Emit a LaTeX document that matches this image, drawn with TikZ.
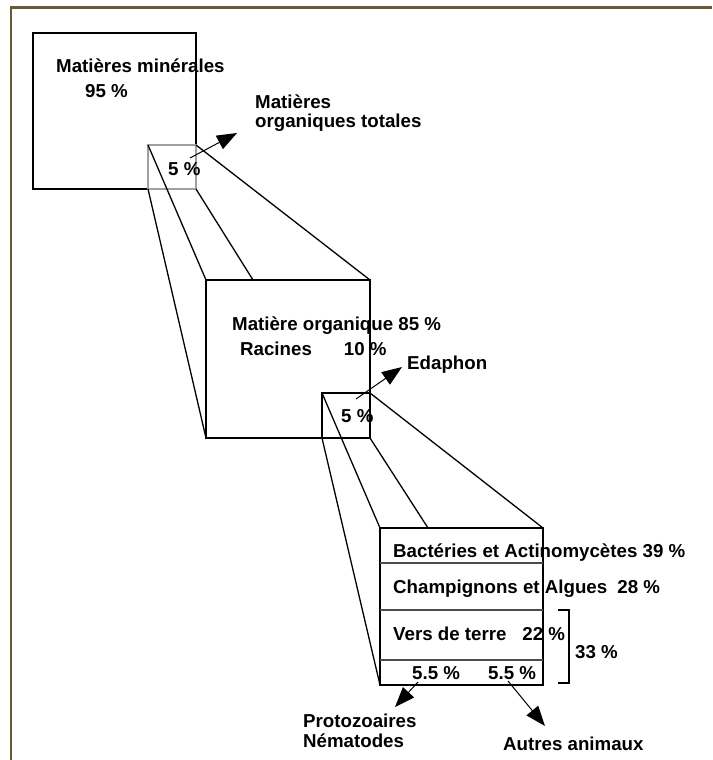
\documentclass[tikz,border=0pt]{standalone}
\usepackage{fontspec}
\setmainfont{Liberation Sans}
\usetikzlibrary{arrows.meta}
\definecolor{framebrown}{RGB}{110,88,52}
\newcommand{\boxline}{1.3pt}
\newcommand{\diagfont}{\fontsize{18.7}{22}\selectfont\bfseries}

\begin{document}
\begin{tikzpicture}[x=1pt,y=-1pt,
  lbl/.style={anchor=base west,inner sep=0pt,font=\diagfont},
  arr/.style={-{Triangle[length=20pt,width=15pt]},line width=1pt},
  boxpen/.style={line width=\boxline}]
\useasboundingbox (0,0) rectangle (712,760);
% frame
\draw[framebrown, line width=2.2pt, line cap=butt] (11,760) -- (11,7.5) -- (712,7.5);
% corners
\coordinate (m1) at (33,33);
\coordinate (m2) at (196,189);
\coordinate (s1) at (148,145);
\coordinate (s2) at (196,189);
\coordinate (o1) at (206,280);
\coordinate (o2) at (370,438);
\coordinate (e1) at (322,393);
\coordinate (e2) at (370,438);
\coordinate (b1) at (380,528);
\coordinate (b2) at (543,685);
%mineral
\draw[boxpen] (m1) rectangle (m2);
\draw[boxpen, gray!75] (s1) rectangle (s2);
\draw[boxpen] (s1 |- s2) -- (o1 |- o2);
\draw[boxpen] (s1) -- (o1);
\draw[boxpen] (s2) -- (253,280);
\draw[boxpen] (s2 |- s1) -- (o2 |- o1);
%organic
\draw[boxpen] (o1) rectangle (o2);
\draw[boxpen] (e1) rectangle (e2);
\draw[boxpen] (e1 |- e2) -- (b1 |- b2);
\draw[boxpen] (e1) -- (b1);
\draw[boxpen] (e2) -- (428,528);
\draw[boxpen] (e2 |- e1) -- (b2 |- b1);
%edaphon
\draw[boxpen] (b1) rectangle (b2);
\draw[boxpen, black!70] (b1 |- 0,563) -- (b2 |- 0,563);
\draw[boxpen, black!70] (b1 |- 0,610) -- (b2 |- 0,610);
\draw[boxpen, black!70] (b1 |- 0,660) -- (b2 |- 0,660);
\coordinate (k1) at (558,610);
\coordinate (k2) at (558,683);
\draw[boxpen] (k1) -- ++(11,0) |- (k2);
% labels
\node[lbl] (minerales) at (56,72) {Matières minérales};
\node[lbl] (p95) at (85,97) {95 \%};
\node[lbl] (totales1) at (255,108) {Matières};
\node[lbl] (totales2) at (255,127) {organiques totales};
\node[lbl] (p5a) at (168,175) {5 \%};
\node[lbl] (organique) at (232,330) {Matière organique 85 \%};
\node[lbl] (racines) at (240,355) {Racines\hspace{32pt}10 \%};
\node[lbl] (edaphon) at (407,369) {Edaphon};
\node[lbl] (p5b) at (341,422) {5 \%};
\node[lbl] (bact) at (393,557) {Bactéries et Actinomycètes 39 \%};
\node[lbl] (champ) at (393,593) {Champignons et Algues\hspace{5pt} 28 \%};
\node[lbl] (vers) at (393,640) {Vers de terre\hspace{16pt}22 \%};
\node[lbl] (p55a) at (412,679) {5.5 \%};
\node[lbl] (p55b) at (488,679) {5.5 \%};
\node[lbl] (p33) at (575,658) {33 \%};
\node[lbl] (proto) at (303,727) {Protozoaires};
\node[lbl] (nema) at (303,747) {Nématodes};
\node[lbl] (autres) at (503,750) {Autres animaux};
% arrows
\coordinate (t1) at (190,158);
\coordinate (h1) at (237,133);
\coordinate (t2) at (356,399);
\coordinate (h2) at (402,367);
\coordinate (t3) at (418,682);
\coordinate (h3) at (395,707);
\coordinate (t4) at (508,681);
\coordinate (h4) at (545,726);
\draw[arr] (t1) -- (h1);
\draw[arr] (t2) -- (h2);
\draw[arr] (t3) -- (h3);
\draw[arr] (t4) -- (h4);
\end{tikzpicture}
\end{document}
